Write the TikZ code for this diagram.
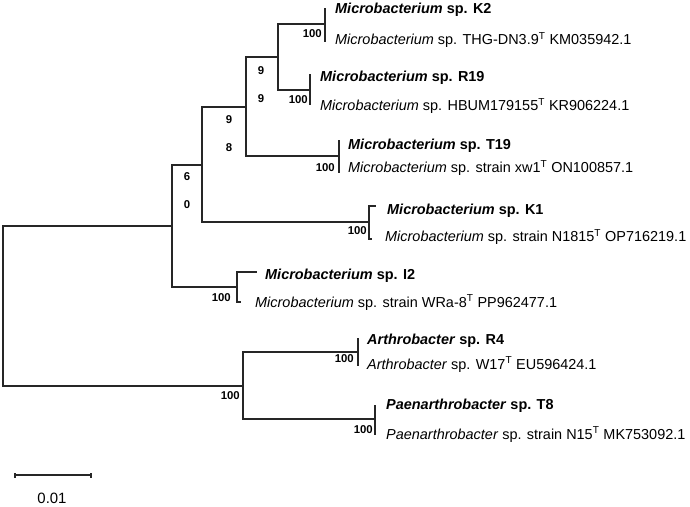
\documentclass[tikz,border=0pt]{standalone}
\usepackage{fontspec}
\setmainfont{Liberation Sans}
\begin{document}
\begin{tikzpicture}[x=1bp,y=-1bp,
  tax/.style={anchor=base west, inner sep=0pt, font=\fontsize{14.5}{17}\selectfont},
  boot/.style={anchor=east, inner sep=0pt, font=\fontsize{11.4}{13}\selectfont\bfseries},
  bootc/.style={anchor=center, inner sep=0pt, font=\fontsize{11.4}{13}\selectfont\bfseries},
  branch/.style={draw=black!85, line width=1.1bp},
  scalelbl/.style={anchor=center, inner sep=0pt, font=\fontsize{15}{17}\selectfont}]
\useasboundingbox (0,0) rectangle (690,507);

% internal nodes (x of node, y of its stem)
\coordinate (R)   at (3,306);
\coordinate (B)   at (172,226);
\coordinate (A)   at (202,165);
\coordinate (E)   at (246,107);
\coordinate (D)   at (278,57);
\coordinate (K2n) at (325,24);
\coordinate (R19n) at (310,90);
\coordinate (T19n) at (339,156);
\coordinate (K1n) at (369,222);
\coordinate (I2n) at (237,287);
\coordinate (Cn)  at (243,386);
\coordinate (Arn) at (358,352);
\coordinate (Pan) at (375,419);

% tips
\coordinate (tK2a) at (325,8);   \coordinate (tK2b) at (325,42);
\coordinate (tR19a) at (310,74); \coordinate (tR19b) at (310,105);
\coordinate (tT19a) at (339,140); \coordinate (tT19b) at (339,173);
\coordinate (tK1a) at (376,206); \coordinate (tK1b) at (372,239);
\coordinate (tI2a) at (257,272); \coordinate (tI2b) at (241,302);
\coordinate (tR4a) at (358,338); \coordinate (tR4b) at (358,366);
\coordinate (tT8a) at (375,405); \coordinate (tT8b) at (375,435);

% branches
\draw[branch] (R) |- (B);
\draw[branch] (R) |- (Cn);
\draw[branch] (B) |- (A);
\draw[branch] (B) |- (I2n);
\draw[branch] (A) |- (E);
\draw[branch] (A) |- (K1n);
\draw[branch] (E) |- (D);
\draw[branch] (E) |- (T19n);
\draw[branch] (D) |- (K2n);
\draw[branch] (D) |- (R19n);
\draw[branch] (K2n) |- (tK2a);
\draw[branch] (K2n) |- (tK2b);
\draw[branch] (R19n) |- (tR19a);
\draw[branch] (R19n) |- (tR19b);
\draw[branch] (T19n) |- (tT19a);
\draw[branch] (T19n) |- (tT19b);
\draw[branch] (K1n) |- (tK1a);
\draw[branch] (K1n) |- (tK1b);
\draw[branch] (I2n) |- (tI2a);
\draw[branch] (I2n) |- (tI2b);
\draw[branch] (Cn) |- (Arn);
\draw[branch] (Cn) |- (Pan);
\draw[branch] (Arn) |- (tR4a);
\draw[branch] (Arn) |- (tR4b);
\draw[branch] (Pan) |- (tT8a);
\draw[branch] (Pan) |- (tT8b);

% taxon labels
\node[tax] (lK2a) at (335,14) {\textbf{\textit{Microbacterium} sp. K2}};
\node[tax] (lK2b) at (335,45) {\textit{Microbacterium} sp. THG-DN3.9\textsuperscript{T} KM035942.1};
\node[tax] (lR19a) at (320,82) {\textbf{\textit{Microbacterium} sp. R19}};
\node[tax] (lR19b) at (320,111) {\textit{Microbacterium} sp. HBUM179155\textsuperscript{T} KR906224.1};
\node[tax] (lT19a) at (348,150) {\textbf{\textit{Microbacterium} sp. T19}};
\node[tax] (lT19b) at (348,173) {\textit{Microbacterium} sp. strain xw1\textsuperscript{T} ON100857.1};
\node[tax] (lK1a) at (387,215) {\textbf{\textit{Microbacterium} sp. K1}};
\node[tax] (lK1b) at (385,242) {\textit{Microbacterium} sp. strain N1815\textsuperscript{T} OP716219.1};
\node[tax] (lI2a) at (265,279) {\textbf{\textit{Microbacterium} sp. I2}};
\node[tax] (lI2b) at (255,307) {\textit{Microbacterium} sp. strain WRa-8\textsuperscript{T} PP962477.1};
\node[tax] (lR4a) at (367,344) {\textbf{\textit{Arthrobacter} sp. R4}};
\node[tax] (lR4b) at (367,369) {\textit{Arthrobacter} sp. W17\textsuperscript{T} EU596424.1};
\node[tax] (lT8a) at (386,409) {\textbf{\textit{Paenarthrobacter} sp. T8}};
\node[tax] (lT8b) at (386,439) {\textit{Paenarthrobacter} sp. strain N15\textsuperscript{T} MK753092.1};

% bootstrap values
\node[boot] (bK2) at (322,34) {100};
\node[boot] (bR19) at (308,100) {100};
\node[boot] (bT19) at (335,168) {100};
\node[boot] (bK1) at (367,231) {100};
\node[boot] (bI2) at (231,298) {100};
\node[boot] (bR4) at (354,359) {100};
\node[boot] (bT8) at (373,430) {100};
\node[boot] (bC) at (240,396) {100};
\node[bootc] (bD1) at (261,71) {9};
\node[bootc] (bD2) at (261,99) {9};
\node[bootc] (bE1) at (229,120) {9};
\node[bootc] (bE2) at (229,148) {8};
\node[bootc] (bA1) at (187,177) {6};
\node[bootc] (bA2) at (187,205) {0};

% scale bar
\coordinate (sbL) at (15,475);
\coordinate (sbR) at (91,475);
\draw[branch] (sbL) -- (sbR);
\draw[branch] ([yshift=-2.5bp]sbL) -- ([yshift=2.5bp]sbL);
\draw[branch] ([yshift=-2.5bp]sbR) -- ([yshift=2.5bp]sbR);
\node[scalelbl] (sbT) at (52,498) {0.01};
\end{tikzpicture}
\end{document}
